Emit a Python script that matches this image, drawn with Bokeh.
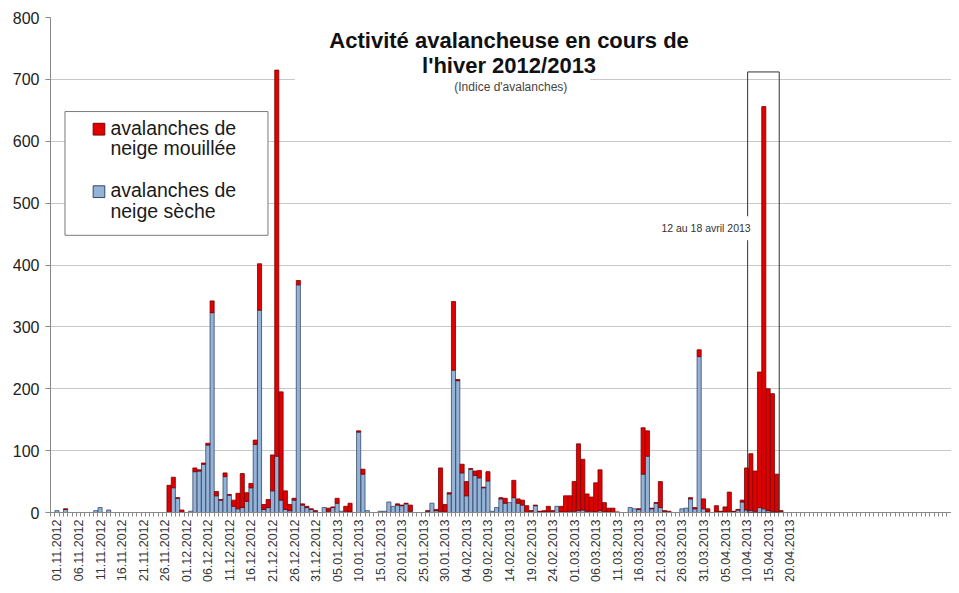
import math
from bokeh.plotting import figure
from bokeh.models import ColumnDataSource, Range1d, FixedTicker, BoxAnnotation, Label
from bokeh.embed import file_html
from bokeh.resources import INLINE

# ---- data (index 0 = 01.11.2012, one bar per day) ----
tick_labels = ["01.11.2012", "06.11.2012", "11.11.2012", "16.11.2012", "21.11.2012",
               "26.11.2012", "01.12.2012", "06.12.2012", "11.12.2012", "16.12.2012",
               "21.12.2012", "26.12.2012", "31.12.2012", "05.01.2013", "10.01.2013",
               "15.01.2013", "20.01.2013", "25.01.2013", "30.01.2013", "04.02.2013",
               "09.02.2013", "14.02.2013", "19.02.2013", "24.02.2013", "01.03.2013",
               "06.03.2013", "11.03.2013", "16.03.2013", "21.03.2013", "26.03.2013",
               "31.03.2013", "05.04.2013", "10.04.2013", "15.04.2013", "20.04.2013"]

# avalanches de neige sèche (blue)
dry = [3, 0, 5, 0, 0, 0, 0, 0, 0, 3,
       8, 0, 4, 0, 0, 0, 0, 0, 0, 0,
       0, 0, 0, 0, 0, 0, 0, 40, 23, 0,
       0, 2, 66, 67, 78, 109, 323, 27, 20, 58,
       28, 10, 6, 8, 18, 40, 110, 327, 5, 8,
       35, 91, 20, 5, 3, 20, 368, 12, 8, 5,
       2, 0, 8, 2, 8, 15, 2, 2, 1, 0,
       130, 62, 3, 0, 0, 2, 2, 17, 10, 12,
       11, 14, 2, 0, 0, 0, 2, 15, 3, 2,
       1, 30, 230, 213, 64, 27, 70, 60, 56, 40,
       51, 2, 8, 22, 15, 16, 24, 15, 12, 0,
       2, 11, 1, 1, 1, 2, 10, 1, 1, 2,
       2, 3, 4, 2, 2, 1, 3, 1, 1, 0,
       0, 0, 0, 8, 6, 5, 62, 91, 6, 15,
       8, 2, 0, 0, 0, 6, 7, 22, 6, 252,
       6, 1, 0, 1, 1, 1, 2, 1, 4, 17,
       4, 3, 2, 8, 6, 3, 2, 1, 2]

# avalanches de neige mouillée (red)
wet = [0, 0, 1, 0, 0, 0, 0, 0, 0, 0,
       0, 0, 0, 0, 0, 0, 0, 0, 0, 0,
       0, 0, 0, 0, 0, 0, 44, 17, 1, 4,
       0, 0, 6, 2, 2, 3, 19, 7, 1, 6,
       1, 10, 25, 55, 14, 7, 7, 75, 8, 13,
       58, 624, 175, 30, 10, 3, 7, 2, 2, 1,
       1, 0, 0, 5, 1, 8, 0, 8, 14, 0,
       2, 8, 0, 0, 0, 0, 0, 0, 0, 2,
       1, 1, 10, 0, 0, 0, 1, 0, 2, 70,
       12, 2, 111, 2, 14, 23, 1, 7, 12, 1,
       15, 0, 0, 2, 8, 0, 28, 7, 8, 11,
       1, 1, 1, 2, 9, 1, 0, 9, 26, 25,
       48, 108, 82, 28, 23, 47, 66, 15, 6, 7,
       1, 0, 0, 0, 0, 1, 75, 41, 1, 1,
       42, 1, 2, 0, 0, 0, 0, 2, 2, 11,
       16, 5, 0, 10, 1, 8, 31, 1, 1, 3,
       68, 92, 65, 219, 650, 197, 190, 61, 1]

y_ticks = [0, 100, 200, 300, 400, 500, 600, 700, 800]
legend_lines = [["avalanches de", "neige mouillée"], ["avalanches de", "neige sèche"]]
title_lines = ["Activité avalancheuse en cours de", "l'hiver 2012/2013"]
subtitle = "(Indice d'avalanches)"
box_note = "12 au 18 avril 2013"

FONT = "Liberation Sans"
RED = "#E00000"
RED_LINE = "#7A0000"
BLUE = "#95B3D7"
BLUE_LINE = "#34466A"

days = list(range(len(dry)))
src_dry = ColumnDataSource(dict(
    x=[i for i in days if dry[i] > 0],
    top=[dry[i] for i in days if dry[i] > 0]))
src_wet = ColumnDataSource(dict(
    x=[i for i in days if wet[i] > 0],
    bottom=[dry[i] for i in days if wet[i] > 0],
    top=[dry[i] + wet[i] for i in days if wet[i] > 0]))

X_END = 207.55
p = figure(width=951, height=585, x_range=Range1d(-1.5, X_END), y_range=Range1d(0, 800),
           output_backend="svg", toolbar_location=None,
           min_border_left=50, min_border_right=0, min_border_top=17, min_border_bottom=68)
p.outline_line_color = None
p.background_fill_color = "white"
p.border_fill_color = "white"

p.vbar(x="x", top="top", bottom=0, width=0.95, source=src_dry,
       fill_color=BLUE, line_color=BLUE_LINE, line_width=0.8)
p.vbar(x="x", top="top", bottom="bottom", width=0.95, source=src_wet,
       fill_color=RED, line_color=RED_LINE, line_width=0.8)

# axes
p.xgrid.grid_line_color = None
p.ygrid.grid_line_color = "#C8C8C8"
p.ygrid.grid_line_width = 1
p.yaxis.ticker = FixedTicker(ticks=y_ticks)
p.yaxis.axis_line_color = "#888888"
p.yaxis.major_tick_line_color = "#888888"
p.yaxis.major_tick_out = 5
p.yaxis.major_tick_in = 0
p.yaxis.minor_tick_line_color = None
p.yaxis.major_label_text_font = FONT
p.yaxis.major_label_text_font_size = "16px"
p.yaxis.major_label_text_color = "#222222"
p.yaxis.major_label_standoff = 6

tick_pos = [5 * k for k in range(len(tick_labels))]
boundaries = [k - 0.5 for k in range(-1, int(X_END) + 2)]
p.xaxis.ticker = FixedTicker(ticks=tick_pos, minor_ticks=boundaries)
p.xaxis.major_label_overrides = {pos: lab for pos, lab in zip(tick_pos, tick_labels)}
p.xaxis.axis_line_color = "#888888"
p.xaxis.major_tick_line_color = None
p.xaxis.major_tick_out = 4
p.xaxis.major_tick_in = 0
p.xaxis.minor_tick_line_color = "#888888"
p.xaxis.minor_tick_out = 4
p.xaxis.minor_tick_in = 0
p.xaxis.major_label_orientation = math.pi / 2
p.xaxis.major_label_text_font = FONT
p.xaxis.major_label_text_font_size = "12.5px"
p.xaxis.major_label_text_color = "#333333"
p.xaxis.major_label_standoff = 3

# title area (white panel hiding grid lines)
p.add_layout(BoxAnnotation(left=56.4, right=155, bottom=731, top=830,
                           fill_color="white", fill_alpha=1, line_color=None))
p.add_layout(BoxAnnotation(left=55.2, right=123.7, bottom=672, top=731,
                           fill_color="white", fill_alpha=1, line_color=None))
p.add_layout(Label(x=104.9, y=742, text=title_lines[0], text_align="center",
                   text_font=FONT, text_font_size="22px", text_font_style="bold",
                   text_color="#111111"))
p.add_layout(Label(x=104.9, y=703, text=title_lines[1], text_align="center",
                   text_font=FONT, text_font_size="22px", text_font_style="bold",
                   text_color="#111111"))
p.add_layout(Label(x=105.3, y=676, text=subtitle, text_align="center",
                   text_font=FONT, text_font_size="12px", text_color="#444444"))

# legend box
p.add_layout(BoxAnnotation(left=1.86, right=48.96, bottom=448, top=648,
                           fill_color="white", fill_alpha=1,
                           line_color="#7A7A7A", line_alpha=1, line_width=1))
p.add_layout(BoxAnnotation(left=8.4, right=11.1, bottom=610, top=629,
                           fill_color=RED, fill_alpha=1,
                           line_color=RED_LINE, line_alpha=1, line_width=1))
p.add_layout(BoxAnnotation(left=8.4, right=11.1, bottom=509, top=528,
                           fill_color=BLUE, fill_alpha=1,
                           line_color=BLUE_LINE, line_alpha=1, line_width=1))
leg_y = [[603, 571], [504, 470]]
for lines, ys in zip(legend_lines, leg_y):
    for txt, yy in zip(lines, ys):
        p.add_layout(Label(x=12.4, y=yy, text=txt, text_font=FONT, text_font_size="19.5px",
                           text_color="#1A1A1A"))

# highlight box 12-18 April and its note
p.add_layout(BoxAnnotation(left=160.25, right=167.58, bottom=0, top=712,
                           fill_alpha=0, line_color="#333333", line_alpha=1, line_width=1))
p.add_layout(Label(x=150.6, y=440, text=box_note, text_align="center",
                   text_font=FONT, text_font_size="10.5px", text_color="#333333",
                   background_fill_color="white", background_fill_alpha=1, padding=6))

open("out.html", "w").write(file_html(p, INLINE))
